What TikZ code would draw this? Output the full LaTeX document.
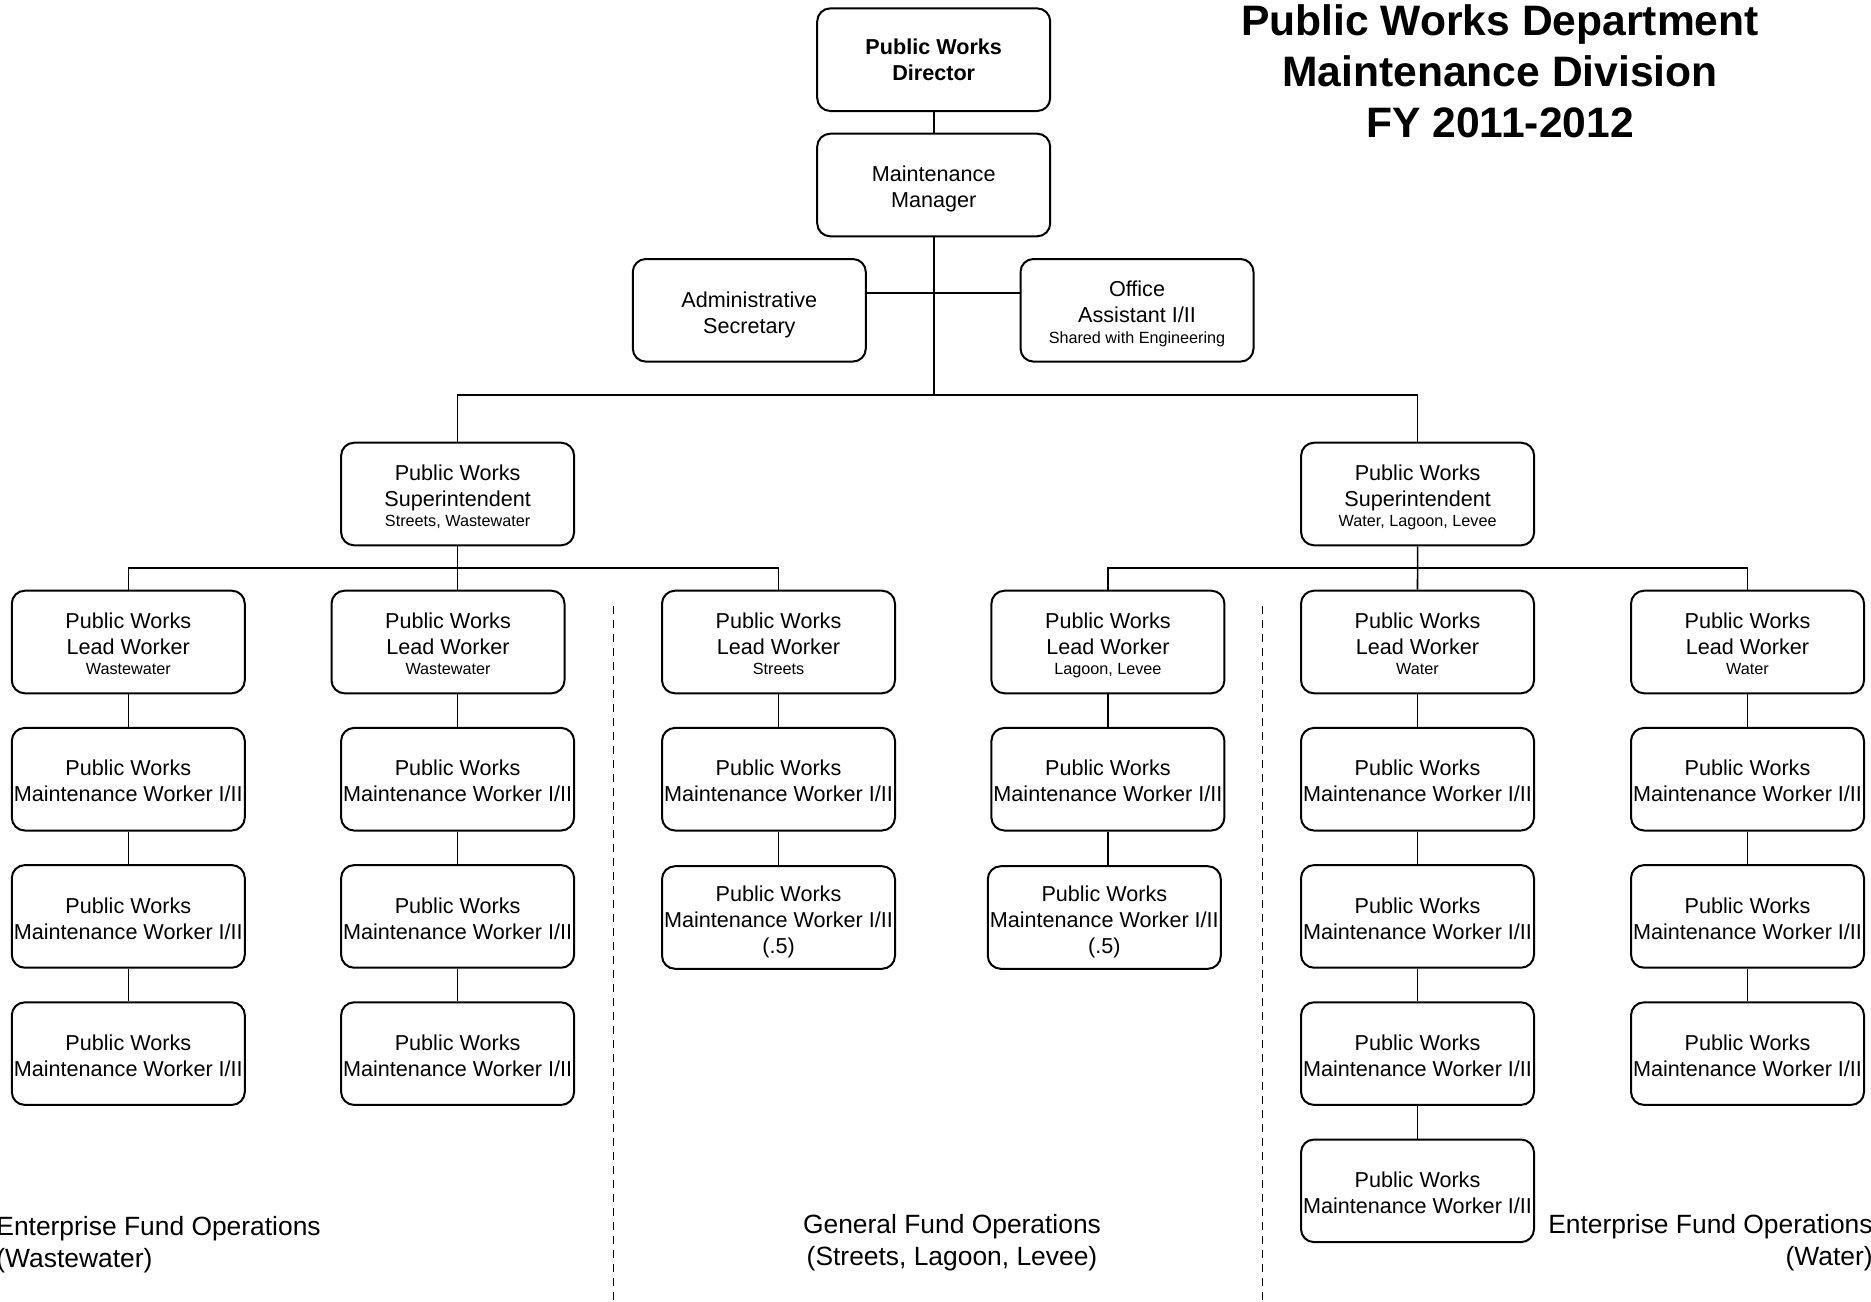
\documentclass[tikz,border=0pt]{standalone}
\usepackage{fontspec}
\setmainfont{Liberation Sans}
\begin{document}
\begin{tikzpicture}[x=0.5pt,y=-0.5pt,
  box/.style={draw,line width=1pt,rounded corners=6.5pt,minimum width=116.5pt,minimum height=51.3pt,inner sep=0pt,align=center,font=\fontsize{10.8}{13}\selectfont},
  boldbox/.style={box,font=\fontsize{10.8}{13}\selectfont\bfseries},
  conn/.style={line width=0.8pt},
  sep/.style={line width=0.8pt,dash pattern=on 4.2pt off 2.8pt},
  note/.style={font=\fontsize{13.2}{16}\selectfont,inner sep=0pt}]
\useasboundingbox (0,0) rectangle (1871,1301);
\newcommand{\tp}{\rule{0pt}{12pt}}
\newcommand{\bt}{\rule[-2.3pt]{0pt}{0pt}}
\newcommand{\sm}[1]{{\fontsize{8.1}{9.5}\selectfont #1\bt}}
\newcommand{\mw}{\tp Public Works\\Maintenance Worker I/II\bt}
\newcommand{\mwh}{\tp Public Works\\Maintenance Worker I/II\\(.5)\bt}
% title
\node[font=\fontsize{21.3}{25.5}\selectfont\bfseries,align=center,inner sep=0pt] (title) at (1500,71) {Public Works Department\\Maintenance Division\\FY 2011-2012};
% top
\node[boldbox] (dir) at (933.7,59.7) {Public Works\\Director};
\node[box] (mgr) at (933.7,185) {\tp Maintenance\\Manager\bt};
\node[box] (adm) at (749.3,310.3) {\tp Administrative\\Secretary\bt};
\node[box] (off) at (1137,310.3) {\tp Office\\Assistant I/II\\[-2.85pt]\sm{Shared with Engineering}};
\node[box] (sup1) at (457.6,494) {\tp Public Works\\Superintendent\\[-2.85pt]\sm{Streets, Wastewater}};
\node[box] (sup2) at (1417.6,494) {\tp Public Works\\Superintendent\\[-2.85pt]\sm{Water, Lagoon, Levee}};
% lead workers
\node[box] (L1) at (128.3,642) {\tp Public Works\\Lead Worker\\[-2.85pt]\sm{Wastewater}};
\node[box] (L2) at (448,642) {\tp Public Works\\Lead Worker\\[-2.85pt]\sm{Wastewater}};
\node[box] (L3) at (778.5,642) {\tp Public Works\\Lead Worker\\[-2.85pt]\sm{Streets}};
\node[box] (L4) at (1107.9,642) {\tp Public Works\\Lead Worker\\[-2.85pt]\sm{Lagoon, Levee}};
\node[box] (L5) at (1417.5,642) {\tp Public Works\\Lead Worker\\[-2.85pt]\sm{Water}};
\node[box] (L6) at (1747.5,642) {\tp Public Works\\Lead Worker\\[-2.85pt]\sm{Water}};
% maintenance workers
\node[box] (m11) at (128.3,779.2) {\mw};
\node[box] (m12) at (128.3,916.4) {\mw};
\node[box] (m13) at (128.3,1053.6) {\mw};
\node[box] (m21) at (457.6,779.2) {\mw};
\node[box] (m22) at (457.6,916.4) {\mw};
\node[box] (m23) at (457.6,1053.6) {\mw};
\node[box] (m31) at (778.5,779.2) {\mw};
\node[box] (m32) at (778.5,917.5) {\mwh};
\node[box] (m41) at (1107.9,779.2) {\mw};
\node[box] (m42) at (1104.3,917.5) {\mwh};
\node[box] (m51) at (1417.5,779.2) {\mw};
\node[box] (m52) at (1417.5,916.4) {\mw};
\node[box] (m53) at (1417.5,1053.6) {\mw};
\node[box] (m54) at (1417.5,1190.8) {\mw};
\node[box] (m61) at (1747.5,779.2) {\mw};
\node[box] (m62) at (1747.5,916.4) {\mw};
\node[box] (m63) at (1747.5,1053.6) {\mw};
% notes
\node[note,anchor=west,align=left] (n1) at (-4,1245) {Enterprise Fund Operations\\(Wastewater)};
\node[note,align=center] (n2) at (952,1242.6) {General Fund Operations\\(Streets, Lagoon, Levee)};
\node[note,anchor=east,align=right] (n3) at (1873,1242.6) {Enterprise Fund Operations\\(Water)};
% coordinates
\coordinate (jA) at (933.7,293);
\coordinate (bus) at (933.7,395);
\coordinate (sb) at (0,568);
\coordinate (d1t) at (613.3,606);
\coordinate (d1b) at (613.3,1301);
\coordinate (d2t) at (1262.4,606);
\coordinate (d2b) at (1262.4,1301);
% connectors
\draw[conn] (dir.south) -- (mgr.north);
\draw[conn] (mgr.south) -- (bus);
\draw[conn] (adm.east |- jA) -- (off.west |- jA);
\draw[conn] (sup1.north) |- (bus) -| (sup2.north);
\draw[conn] (L1.north) |- (sup1.south |- sb) -| (L3.north);
\draw[conn] (sup1.south) -- (sup1.south |- L2.north);
\draw[conn] (L4.north) |- (sup2.south |- sb) -| (L6.north);
\draw[conn] (sup2.south) -- (L5.north);
\draw[conn] (L1.south) -- (m11.north) (m11.south) -- (m12.north) (m12.south) -- (m13.north);
\draw[conn] (m21.north |- L2.south) -- (m21.north) (m21.south) -- (m22.north) (m22.south) -- (m23.north);
\draw[conn] (L3.south) -- (m31.north) (m31.south) -- (m32.north);
\draw[conn] (L4.south) -- (m41.north) (m41.south) -- (m41.south |- m42.north);
\draw[conn] (L5.south) -- (m51.north) (m51.south) -- (m52.north) (m52.south) -- (m53.north) (m53.south) -- (m54.north);
\draw[conn] (L6.south) -- (m61.north) (m61.south) -- (m62.north) (m62.south) -- (m63.north);
\draw[sep] (d1t) -- (d1b);
\draw[sep] (d2t) -- (d2b);
\end{tikzpicture}
\end{document}
